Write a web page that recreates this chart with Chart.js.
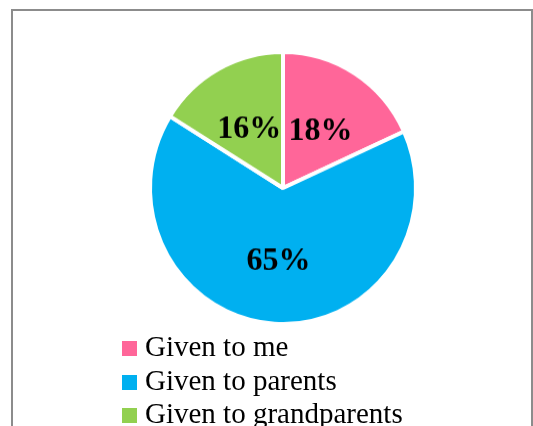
<!DOCTYPE html>
<html>
<head>
<meta charset="utf-8">
<script src="https://cdn.jsdelivr.net/npm/chart.js@4"></script>
<style>
  html, body { margin: 0; padding: 0; background: #fff; }
  body { width: 533px; height: 426px; position: relative; overflow: hidden; }
  #frame {
    position: absolute; left: 11px; top: 9px; width: 522px; height: 440px;
    border: 2px solid #8c8c8c; border-right-width: 2px; box-sizing: border-box;
  }
  #pieWrap {
    position: absolute; left: 0; top: 0; width: 533px; height: 426px;
    transform: scaleY(1.023); transform-origin: 0 188px;
  }
  #legend {
    position: absolute; left: 122px; top: 330px;
    font-family: "Liberation Serif", "Times New Roman", serif; font-size: 29px;
    color: #000; line-height: 33.5px;
  }
  #legend div { white-space: nowrap; }
  #legend span.box {
    display: inline-block; width: 15px; height: 15px; margin-right: 8px;
    vertical-align: 0px;
  }
</style>
</head>
<body>
<div id="frame"></div>
<div id="pieWrap"><canvas id="shareChart" width="533" height="426"></canvas></div>
<div id="legend"></div>
<script>
// gift shares
var categories = ["Given to me", "Given to parents", "Given to grandparents"];
var shares = [18, 65, 16];
var shareLabels = ["18%", "65%", "16%"];
var sliceColors = ["#FF6699", "#00B0F0", "#92D050"];

// percentage text inside each slice
var sliceText = {
    id: 'sliceText',
    afterDatasetsDraw: function (chart) {
        var ctx = chart.ctx;
        var arcs = chart.getDatasetMeta(0).data;
        ctx.save();
        ctx.font = 'bold 32px "Liberation Serif", "Times New Roman", serif';
        ctx.fillStyle = '#000';
        ctx.textAlign = 'center';
        ctx.textBaseline = 'middle';
        arcs.forEach(function (arc, i) {
            var p = arc.getProps(['x', 'y', 'startAngle', 'endAngle', 'outerRadius'], true);
            var mid = (p.startAngle + p.endAngle) / 2;
            var r = p.outerRadius * 0.52;
            ctx.fillText(shareLabels[i], p.x + Math.cos(mid) * r, p.y + Math.sin(mid) * r + 3);
        });
        ctx.restore();
    }
};

var ctx = document.getElementById('shareChart').getContext('2d');

var shareChart = new Chart(ctx, {
    type: 'pie',
    data: {
        labels: categories,
        datasets: [{
            data: shares,
            backgroundColor: sliceColors,
            borderColor: '#fff',
            borderWidth: 4
        }]
    },
    options: {
        responsive: false,
        animation: false,
        layout: { padding: { left: 148, right: 115, top: 53, bottom: 103 } },
        plugins: {
            legend: { display: false },
            tooltip: { enabled: false }
        }
    },
    plugins: [sliceText]
});

// legend rows
var legendBox = document.getElementById('legend');
categories.forEach(function (name, i) {
    var row = document.createElement('div');
    var box = document.createElement('span');
    box.className = 'box';
    box.style.background = sliceColors[i];
    row.appendChild(box);
    row.appendChild(document.createTextNode(name));
    legendBox.appendChild(row);
});
</script>
</body>
</html>
